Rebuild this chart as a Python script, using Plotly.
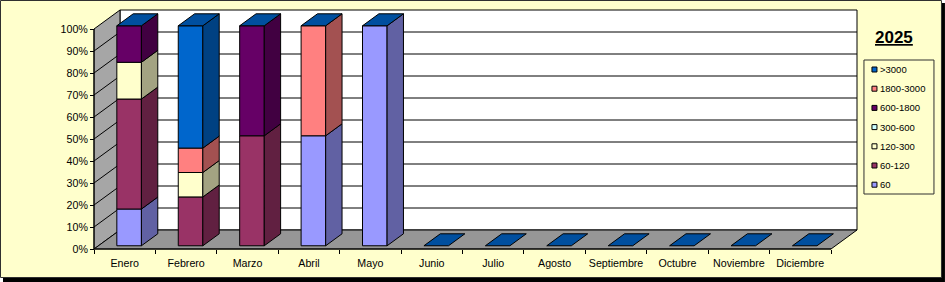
import plotly.graph_objects as go

# ---------------- data ----------------
months = ["Enero", "Febrero", "Marzo", "Abril", "Mayo", "Junio", "Julio",
          "Agosto", "Septiembre", "Octubre", "Noviembre", "Diciembre"]
series_names = ["60", "60-120", "120-300", "300-600", "600-1800", "1800-3000", ">3000"]
series_colors = ["#9999FF", "#993366", "#FFFFCC", "#CCFFFF", "#660066", "#FF8080", "#0066CC"]

pct_60        = [16.7, 0.0, 0.0, 50.0, 100.0, 0, 0, 0, 0, 0, 0, 0]
pct_60_120    = [50.0, 22.2, 50.0, 0.0, 0.0, 0, 0, 0, 0, 0, 0, 0]
pct_120_300   = [16.7, 11.1, 0.0, 0.0, 0.0, 0, 0, 0, 0, 0, 0, 0]
pct_300_600   = [0.0, 0.0, 0.0, 0.0, 0.0, 0, 0, 0, 0, 0, 0, 0]
pct_600_1800  = [16.6, 0.0, 50.0, 0.0, 0.0, 0, 0, 0, 0, 0, 0, 0]
pct_1800_3000 = [0.0, 11.1, 0.0, 50.0, 0.0, 0, 0, 0, 0, 0, 0, 0]
pct_3000      = [0.0, 55.6, 0.0, 0.0, 0.0, 0, 0, 0, 0, 0, 0, 0]

y_ticks = [0, 10, 20, 30, 40, 50, 60, 70, 80, 90, 100]
y_tick_labels = ["0%", "10%", "20%", "30%", "40%", "50%", "60%", "70%", "80%", "90%", "100%"]
chart_title = "2025"

# ---------------- projection / layout constants ----------------
W_FIG, H_FIG = 945, 282
SX = 61.42            # px per category
SY = 2.2              # px per percent
DEPTH_X = 26 / SX     # full depth offset (x, data units)
DEPTH_Y = 19 / SY     # full depth offset (y, data units)
F1, F2 = 0.17, 0.80   # bar front/back depth fractions
BAR_W = 0.4
PAD = 2
n = len(months)
X0, X1 = -0.5, n - 0.5
x_lo, x_hi = X0 - PAD / SX, X1 + DEPTH_X + PAD / SX
y_lo, y_hi = -PAD / SY, 100 + DEPTH_Y + PAD / SY
PL, PT = 92, 8
PW = (x_hi - x_lo) * SX
PH = (y_hi - y_lo) * SY
FONT = "Liberation Sans, Arial, sans-serif"


def xp(px):
    return (px - PL) / PW


def yp(py):
    return (PT + PH - py) / PH


def shade(hexcol, f):
    h = hexcol.lstrip("#")
    r, g, b = (int(h[i:i + 2], 16) for i in (0, 2, 4))
    return "#%02X%02X%02X" % (int(r * f), int(g * f), int(b * f))


series = [pct_60, pct_60_120, pct_120_300, pct_300_600, pct_600_1800, pct_1800_3000, pct_3000]
totals = [sum(s[i] for s in series) for i in range(n)]
norm = [[(s[i] / totals[i] * 100) if totals[i] else 0 for i in range(n)] for s in series]

fig = go.Figure()
shapes = []

# chart area: shadow + yellow frame
shapes.append(dict(type="rect", xref="paper", yref="paper", layer="below",
                   x0=xp(3), x1=xp(W_FIG), y0=yp(3), y1=yp(H_FIG),
                   fillcolor="#000000", line=dict(width=0)))
shapes.append(dict(type="rect", xref="paper", yref="paper", layer="below",
                   x0=xp(0.5), x1=xp(941.5), y0=yp(0.5), y1=yp(277.5),
                   fillcolor="#FFFFCC", line=dict(color="#303030", width=1)))

# walls and floor
bx, by = X0 + DEPTH_X, DEPTH_Y
def path(pts):
    return "M " + " L ".join("%f,%f" % p for p in pts) + " Z"

shapes.append(dict(type="path", xref="x", yref="y", layer="below",
                   path=path([(bx, by), (X1 + DEPTH_X, by), (X1 + DEPTH_X, 100 + by), (bx, 100 + by)]),
                   fillcolor="#FFFFFF", line=dict(color="#000000", width=1)))
shapes.append(dict(type="path", xref="x", yref="y", layer="below",
                   path=path([(X0, 0), (X0, 100), (bx, 100 + by), (bx, by)]),
                   fillcolor="#A6A6A6", line=dict(color="#000000", width=1)))
shapes.append(dict(type="path", xref="x", yref="y", layer="below",
                   path=path([(X0, 0), (X1, 0), (X1 + DEPTH_X, by), (bx, by)]),
                   fillcolor="#969696", line=dict(color="#000000", width=1)))
for v in y_ticks[1:-1]:
    shapes.append(dict(type="line", xref="x", yref="y", layer="below",
                       x0=X0, y0=v, x1=bx, y1=v + by, line=dict(color="#000000", width=1)))
    shapes.append(dict(type="line", xref="x", yref="y", layer="below",
                       x0=bx, y0=v + by, x1=X1 + DEPTH_X, y1=v + by, line=dict(color="#000000", width=1)))

# front faces (bars)
xs = [i + F1 * DEPTH_X for i in range(n)]
cum = [0.0] * n
bases = []
for k, name in enumerate(series_names):
    vals = norm[k]
    base = [cum[i] + F1 * DEPTH_Y for i in range(n)]
    bases.append(list(cum))
    fig.add_trace(go.Bar(x=xs, y=[v if v > 0 else None for v in vals], base=base,
                         width=BAR_W, name=name, showlegend=False, hoverinfo="skip",
                         marker=dict(color=series_colors[k], line=dict(color="#000000", width=1))))
    cum = [cum[i] + vals[i] for i in range(n)]

# side faces
dd_x = (F2 - F1) * DEPTH_X
dd_y = (F2 - F1) * DEPTH_Y
for k, name in enumerate(series_names):
    px_, py_ = [], []
    for i in range(n):
        v = norm[k][i]
        if v <= 0:
            continue
        xr = i - BAR_W / 2 + F1 * DEPTH_X + BAR_W
        yb = bases[k][i] + F1 * DEPTH_Y
        yt = yb + v
        px_ += [xr, xr + dd_x, xr + dd_x, xr, xr, None]
        py_ += [yb, yb + dd_y, yt + dd_y, yt, yb, None]
    if px_:
        fig.add_trace(go.Scatter(x=px_, y=py_, mode="lines", fill="toself",
                                 fillcolor=shade(series_colors[k], 0.64),
                                 line=dict(color="#000000", width=1),
                                 showlegend=False, hoverinfo="skip"))

# top faces (top series colour, at stack top)
tx, ty = [], []
for i in range(n):
    top = cum[i] + F1 * DEPTH_Y
    xl = i - BAR_W / 2 + F1 * DEPTH_X
    xr = xl + BAR_W
    tx += [xl, xr, xr + dd_x, xl + dd_x, xl, None]
    ty += [top, top, top + dd_y, top + dd_y, top, None]
fig.add_trace(go.Scatter(x=tx, y=ty, mode="lines", fill="toself",
                         fillcolor=shade(series_colors[-1], 0.78),
                         line=dict(color="#000000", width=1),
                         showlegend=False, hoverinfo="skip"))

# axis lines at the front edges
shapes.append(dict(type="line", xref="x", yref="y", layer="above",
                   x0=X0, y0=0, x1=X0, y1=100, line=dict(color="#000000", width=1)))
shapes.append(dict(type="line", xref="x", yref="y", layer="above",
                   x0=X0, y0=0, x1=X1, y1=0, line=dict(color="#000000", width=1)))

# manual legend (Excel style)
annotations = []
LEG_L, LEG_T, LEG_R, LEG_B = 864, 60, 934, 194
shapes.append(dict(type="rect", xref="paper", yref="paper", layer="above",
                   x0=xp(LEG_L), x1=xp(LEG_R), y0=yp(LEG_T), y1=yp(LEG_B),
                   line=dict(color="#303030", width=1), fillcolor="rgba(0,0,0,0)"))
first_y, step = 69.5, 19.2
for j, k in enumerate(reversed(range(len(series_names)))):
    cy = first_y + j * step
    shapes.append(dict(type="rect", xref="paper", yref="paper", layer="above",
                       x0=xp(872), x1=xp(877), y0=yp(cy - 2.5), y1=yp(cy + 2.5),
                       fillcolor=series_colors[k], line=dict(color="#000000", width=1)))
    annotations.append(dict(xref="paper", yref="paper", x=xp(878.5), y=yp(cy),
                            xanchor="left", yanchor="middle", showarrow=False,
                            text=series_names[k], font=dict(size=9.5, color="#000000", family=FONT)))

annotations.append(dict(xref="paper", yref="paper", x=xp(894), y=yp(37),
                        xanchor="center", yanchor="middle", showarrow=False,
                        text="<b><u>" + chart_title + "</u></b>",
                        font=dict(size=17, color="#000000", family=FONT)))

fig.update_layout(
    width=W_FIG, height=H_FIG,
    margin=dict(l=PL, t=PT, r=W_FIG - PL - PW, b=H_FIG - PT - PH, pad=0),
    paper_bgcolor="#FFFFFF", plot_bgcolor="rgba(0,0,0,0)",
    barmode="overlay", showlegend=False,
    font=dict(family=FONT, size=10.67, color="#000000"),
    shapes=shapes, annotations=annotations,
    xaxis=dict(range=[x_lo, x_hi], tickvals=list(range(n)), ticktext=months,
               ticks="outside", ticklen=4, tickcolor="rgba(0,0,0,0)",
               showgrid=False, zeroline=False, showline=False,
               anchor="free", position=PAD / PH,
               minor=dict(tickmode="linear", tick0=-0.5, dtick=1, ticks="outside",
                          ticklen=4, tickcolor="#000000", showgrid=False),
               tickfont=dict(size=10.67, family=FONT)),
    yaxis=dict(range=[y_lo, y_hi], tickvals=y_ticks, ticktext=y_tick_labels,
               ticks="outside", ticklen=4, tickcolor="#000000",
               showgrid=False, zeroline=False, showline=False,
               anchor="free", position=PAD / PW,
               tickfont=dict(size=10.67, family=FONT)),
)

fig.write_html("out.html")
